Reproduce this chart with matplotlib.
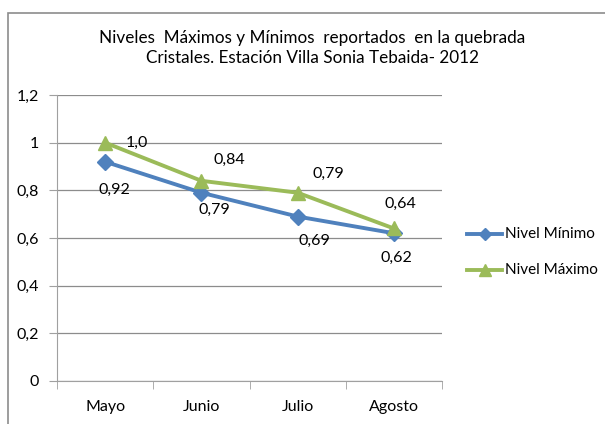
import matplotlib
matplotlib.use("Agg")
import matplotlib.pyplot as plt
from matplotlib.patches import Rectangle
from matplotlib.lines import Line2D

months = ["Mayo", "Junio", "Julio", "Agosto"]
nivel_min = [0.92, 0.79, 0.69, 0.62]
nivel_max = [1.00, 0.84, 0.79, 0.64]
labels_min = ["0,92", "0,79", "0,69", "0,62"]
labels_max = ["1,0", "0,84", "0,79", "0,64"]
yticks = [0, 0.2, 0.4, 0.6, 0.8, 1.0, 1.2]
ytick_labels = ["0", "0,2", "0,4", "0,6", "0,8", "1", "1,2"]

FONT = ["Lato", "DejaVu Sans"]
plt.rcParams['font.family'] = FONT

W, H = 605, 424
fig = plt.figure(figsize=(W/100, H/100), dpi=100)

# chart border
fig.patches.append(Rectangle((8/W, -0.1), 1.2, (H-13)/H + 0.1, transform=fig.transFigure,
                             fill=False, edgecolor="#8c8c8c", linewidth=1.2))

ax = fig.add_axes([57/W, 1-381/H, (442-57)/W, (381-95)/H])
x = list(range(len(months)))
blue = "#4F81BD"
green = "#9BBB59"
ax.plot(x, nivel_min, color=blue, lw=2.8, marker="D", ms=8, zorder=3)
ax.plot(x, nivel_max, color=green, lw=2.8, marker="^", ms=10, zorder=4)

ax.set_xlim(-0.5, 3.5)
ax.set_ylim(0, 1.2)
ax.set_yticks(yticks)
ax.set_yticklabels(ytick_labels)
ax.set_xticks(x)
ax.set_xticklabels(months)
ax.set_xticks([-0.5, 0.5, 1.5, 2.5, 3.5], minor=True)
ax.tick_params(axis='x', which='major', length=0, pad=14, labelsize=11.5, colors="#000000")
ax.tick_params(axis='x', which='minor', length=6, color="#a0a0a0", direction='out')
ax.tick_params(axis='y', length=6, color="#a0a0a0", labelsize=11.5, pad=7)
ax.grid(axis='y', color="#8c8c8c", lw=0.9)
ax.set_axisbelow(True)
for s in ["top", "right"]:
    ax.spines[s].set_visible(False)
ax.spines["left"].set_color("#a0a0a0")
ax.spines["bottom"].set_color("#a0a0a0")

off_max = [(32, 0), (28, 21), (31, 19), (7, 25)]
off_min = [(9, -28), (13, -17), (17, -24), (3, -25)]
for i in x:
    ax.annotate(labels_max[i], (x[i], nivel_max[i]), xytext=off_max[i], textcoords='offset pixels',
                ha='center', va='center', fontsize=11.5)
    ax.annotate(labels_min[i], (x[i], nivel_min[i]), xytext=off_min[i], textcoords='offset pixels',
                ha='center', va='center', fontsize=11.5)

fig.text(312/W, 1-38/H, "Niveles  Máximos y Mínimos  reportados  en la quebrada",
         ha='center', va='center', fontsize=12.3)
fig.text(312/W, 1-58/H, "Cristales. Estación Villa Sonia Tebaida- 2012",
         ha='center', va='center', fontsize=12.3)

# legend
for yy, col, mk, ms, lab in [(234, blue, "D", 6, "Nivel Mínimo"), (270, green, "^", 8, "Nivel Máximo")]:
    fig.add_artist(Line2D([467/W, 502/W], [1-yy/H, 1-yy/H], transform=fig.transFigure,
                          color=col, lw=2.8))
    fig.add_artist(Line2D([484.5/W], [1-yy/H], transform=fig.transFigure,
                          color=col, marker=mk, ms=ms, lw=0))
    fig.text(505/W, 1-yy/H, lab, ha='left', va='center', fontsize=11)

fig.savefig("out.png", dpi=100)
